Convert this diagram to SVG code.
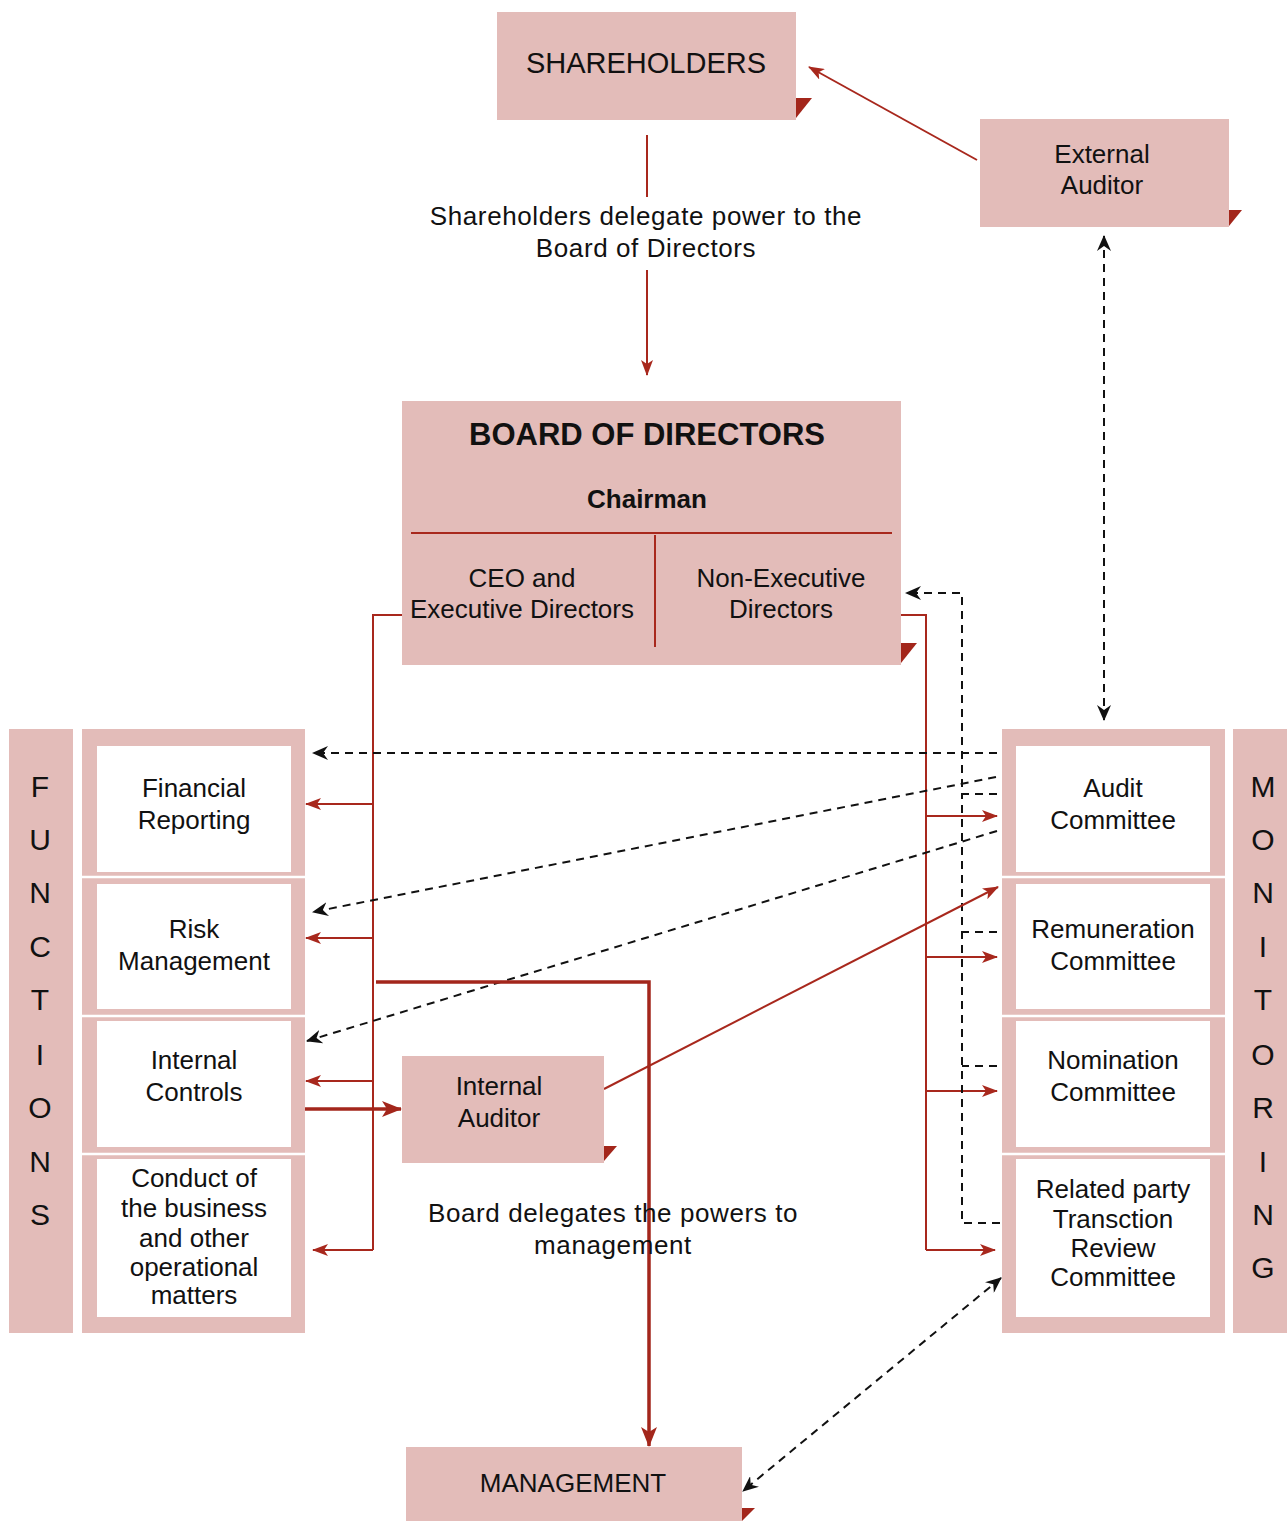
<svg xmlns="http://www.w3.org/2000/svg" width="1287" height="1521" viewBox="0 0 1287 1521">
  <style>
    .box { fill: #e3bcb9; }
    .inner { fill: #ffffff; }
    .sep { stroke: #ffffff; stroke-width: 2.5; }
    .tag { fill: #a3261b; }
    .t { font-family: "Liberation Sans", Arial, sans-serif; font-size: 26px; fill: #111; text-anchor: middle; }
    .big { font-size: 29px; }
    .title { font-size: 31px; font-weight: bold; }
    .bold { font-weight: bold; }
    .wide { letter-spacing: 0.6px; }
    .vert { font-size: 30px; }
    .red { fill: none; stroke: #a8281d; stroke-width: 2; }
    .redthick { fill: none; stroke: #a3261b; stroke-width: 3.5; }
    .dash { fill: none; stroke: #111; stroke-width: 2; stroke-dasharray: 8 6; }
  </style>
  <defs>
    <marker id="arR" viewBox="0 0 16 12" refX="15" refY="6" markerWidth="16" markerHeight="12" markerUnits="userSpaceOnUse" orient="auto-start-reverse">
      <path d="M0,0 L16,6 L0,12 L4,6 Z" fill="#a8281d"/>
    </marker>
    <marker id="arRL" viewBox="0 0 20 16" refX="19" refY="8" markerWidth="20" markerHeight="16" markerUnits="userSpaceOnUse" orient="auto-start-reverse">
      <path d="M0,0 L20,8 L0,16 L5,8 Z" fill="#a3261b"/>
    </marker>
    <marker id="arK" viewBox="0 0 16 14" refX="15" refY="7" markerWidth="16" markerHeight="14" markerUnits="userSpaceOnUse" orient="auto-start-reverse">
      <path d="M0,0 L16,7 L0,14 L5,7 Z" fill="#111"/>
    </marker>
  </defs>

  <!-- connectors -->
  <g id="connectors">
    <!-- shareholders to board -->
    <line class="red" x1="647" y1="135" x2="647" y2="197"/>
    <line class="red" x1="647" y1="270" x2="647" y2="375" marker-end="url(#arR)"/>
    <text class="t wide" x="646" y="225">Shareholders delegate power to the</text>
    <text class="t wide" x="646" y="257">Board of Directors</text>

    <!-- external auditor reports to shareholders -->
    <line class="red" x1="977" y1="160" x2="809" y2="67" marker-end="url(#arR)"/>

    <!-- external auditor <-> audit committee -->
    <line class="dash" x1="1104" y1="236" x2="1104" y2="720" marker-start="url(#arK)" marker-end="url(#arK)"/>

    <!-- executive directors to functions -->
    <polyline class="red" points="402,615 373,615 373,1250"/>
    <line class="red" x1="373" y1="804" x2="306" y2="804" marker-end="url(#arR)"/>
    <line class="red" x1="373" y1="938" x2="306" y2="938" marker-end="url(#arR)"/>
    <line class="red" x1="373" y1="1081" x2="306" y2="1081" marker-end="url(#arR)"/>
    <line class="red" x1="373" y1="1250" x2="313" y2="1250" marker-end="url(#arR)"/>

    <!-- non-executive directors to committees -->
    <polyline class="red" points="901,615 926,615 926,1250"/>
    <line class="red" x1="926" y1="816" x2="997" y2="816" marker-end="url(#arR)"/>
    <line class="red" x1="926" y1="957" x2="997" y2="957" marker-end="url(#arR)"/>
    <line class="red" x1="926" y1="1091" x2="997" y2="1091" marker-end="url(#arR)"/>
    <line class="red" x1="926" y1="1250" x2="995" y2="1250" marker-end="url(#arR)"/>

    <!-- committees report back to non-executive directors -->
    <polyline class="dash" points="997,794 962,794 962,593 906,593" marker-end="url(#arK)"/>
    <polyline class="dash" points="997,932 962,932"/>
    <polyline class="dash" points="997,1066 962,1066"/>
    <polyline class="dash" points="1000,1223 962,1223 962,794"/>

    <!-- audit committee oversight of functions -->
    <line class="dash" x1="997" y1="753" x2="313" y2="753" marker-end="url(#arK)"/>
    <line class="dash" x1="996" y1="777" x2="313" y2="912" marker-end="url(#arK)"/>
    <line class="dash" x1="997" y1="831" x2="307" y2="1041" marker-end="url(#arK)"/>

    <!-- internal controls to internal auditor -->
    <line class="redthick" x1="305" y1="1109" x2="401" y2="1109" marker-end="url(#arRL)"/>
    <!-- internal auditor to audit committee -->
    <line class="red" x1="604" y1="1089" x2="998" y2="887" marker-end="url(#arR)"/>

    <!-- board delegates to management -->
    <polyline class="redthick" points="376,982 649,982 649,1446" marker-end="url(#arRL)"/>
    <text class="t wide" x="613" y="1222">Board delegates the powers to</text>
    <text class="t wide" x="613" y="1254">management</text>

    <!-- management <-> related party committee -->
    <line class="dash" x1="1001" y1="1278" x2="743" y2="1491" marker-start="url(#arK)" marker-end="url(#arK)"/>
  </g>

  <!-- shareholders -->
  <g id="shareholders">
    <rect class="box" x="497" y="12" width="299" height="108"/>
    <polygon class="tag" points="796,98 812,98 796,118"/>
    <text class="t big" x="646" y="73">SHAREHOLDERS</text>
  </g>

  <!-- external auditor -->
  <g id="external-auditor">
    <rect class="box" x="980" y="119" width="249" height="108"/>
    <polygon class="tag" points="1229,210 1242,210 1229,226"/>
    <text class="t" x="1102" y="163">External</text>
    <text class="t" x="1102" y="194">Auditor</text>
  </g>

  <!-- board of directors -->
  <g id="board">
    <rect class="box" x="402" y="401" width="499" height="264"/>
    <polygon class="tag" points="901,643 917,643 901,663"/>
    <text class="t title" x="647" y="445">BOARD OF DIRECTORS</text>
    <text class="t bold" x="647" y="508">Chairman</text>
    <line class="red" x1="411" y1="533" x2="892" y2="533"/>
    <line class="red" x1="655" y1="535" x2="655" y2="647"/>
    <text class="t" x="522" y="587">CEO and</text>
    <text class="t" x="522" y="618">Executive Directors</text>
    <text class="t" x="781" y="587">Non-Executive</text>
    <text class="t" x="781" y="618">Directors</text>
  </g>

  <!-- functions label -->
  <g id="functions-label">
    <rect class="box" x="9" y="729" width="64" height="604"/>
    <text class="t vert" x="40" y="797">F</text>
    <text class="t vert" x="40" y="850">U</text>
    <text class="t vert" x="40" y="903">N</text>
    <text class="t vert" x="40" y="957">C</text>
    <text class="t vert" x="40" y="1010">T</text>
    <text class="t vert" x="40" y="1065">I</text>
    <text class="t vert" x="40" y="1118">O</text>
    <text class="t vert" x="40" y="1172">N</text>
    <text class="t vert" x="40" y="1225">S</text>
  </g>

  <!-- functions -->
  <g id="functions">
    <rect class="box" x="82" y="729" width="223" height="604"/>
    <line class="sep" x1="82" y1="877" x2="305" y2="877"/>
    <line class="sep" x1="82" y1="1016" x2="305" y2="1016"/>
    <line class="sep" x1="82" y1="1154" x2="305" y2="1154"/>
    <g id="financial-reporting">
      <rect class="inner" x="97" y="746" width="194" height="126"/>
      <text class="t" x="194" y="797">Financial</text>
      <text class="t" x="194" y="829">Reporting</text>
    </g>
    <g id="risk-management">
      <rect class="inner" x="97" y="884" width="194" height="125"/>
      <text class="t" x="194" y="938">Risk</text>
      <text class="t" x="194" y="970">Management</text>
    </g>
    <g id="internal-controls">
      <rect class="inner" x="97" y="1021" width="194" height="126"/>
      <text class="t" x="194" y="1069">Internal</text>
      <text class="t" x="194" y="1101">Controls</text>
    </g>
    <g id="conduct">
      <rect class="inner" x="97" y="1159" width="194" height="158"/>
      <text class="t" x="194" y="1187">Conduct of</text>
      <text class="t" x="194" y="1217">the business</text>
      <text class="t" x="194" y="1247">and other</text>
      <text class="t" x="194" y="1276">operational</text>
      <text class="t" x="194" y="1304">matters</text>
    </g>
  </g>

  <!-- committees -->
  <g id="committees">
    <rect class="box" x="1002" y="729" width="223" height="604"/>
    <line class="sep" x1="1002" y1="877" x2="1225" y2="877"/>
    <line class="sep" x1="1002" y1="1016" x2="1225" y2="1016"/>
    <line class="sep" x1="1002" y1="1154" x2="1225" y2="1154"/>
    <g id="audit-committee">
      <rect class="inner" x="1016" y="746" width="194" height="126"/>
      <text class="t" x="1113" y="797">Audit</text>
      <text class="t" x="1113" y="829">Committee</text>
    </g>
    <g id="remuneration-committee">
      <rect class="inner" x="1016" y="884" width="194" height="125"/>
      <text class="t" x="1113" y="938">Remuneration</text>
      <text class="t" x="1113" y="970">Committee</text>
    </g>
    <g id="nomination-committee">
      <rect class="inner" x="1016" y="1021" width="194" height="126"/>
      <text class="t" x="1113" y="1069">Nomination</text>
      <text class="t" x="1113" y="1101">Committee</text>
    </g>
    <g id="related-party-committee">
      <rect class="inner" x="1016" y="1159" width="194" height="158"/>
      <text class="t" x="1113" y="1198">Related party</text>
      <text class="t" x="1113" y="1228">Transction</text>
      <text class="t" x="1113" y="1257">Review</text>
      <text class="t" x="1113" y="1286">Committee</text>
    </g>
  </g>

  <!-- monitoring label -->
  <g id="monitoring-label">
    <rect class="box" x="1233" y="729" width="54" height="604"/>
    <text class="t vert" x="1263" y="797">M</text>
    <text class="t vert" x="1263" y="850">O</text>
    <text class="t vert" x="1263" y="903">N</text>
    <text class="t vert" x="1263" y="957">I</text>
    <text class="t vert" x="1263" y="1010">T</text>
    <text class="t vert" x="1263" y="1065">O</text>
    <text class="t vert" x="1263" y="1118">R</text>
    <text class="t vert" x="1263" y="1172">I</text>
    <text class="t vert" x="1263" y="1225">N</text>
    <text class="t vert" x="1263" y="1278">G</text>
  </g>

  <!-- internal auditor -->
  <g id="internal-auditor">
    <rect class="box" x="402" y="1056" width="202" height="107"/>
    <polygon class="tag" points="604,1146 617,1146 604,1161"/>
    <text class="t" x="499" y="1095">Internal</text>
    <text class="t" x="499" y="1127">Auditor</text>
  </g>

  <!-- management -->
  <g id="management">
    <rect class="box" x="406" y="1447" width="336" height="74"/>
    <polygon class="tag" points="742,1508 755,1508 742,1521"/>
    <text class="t" x="573" y="1492">MANAGEMENT</text>
  </g>
</svg>
